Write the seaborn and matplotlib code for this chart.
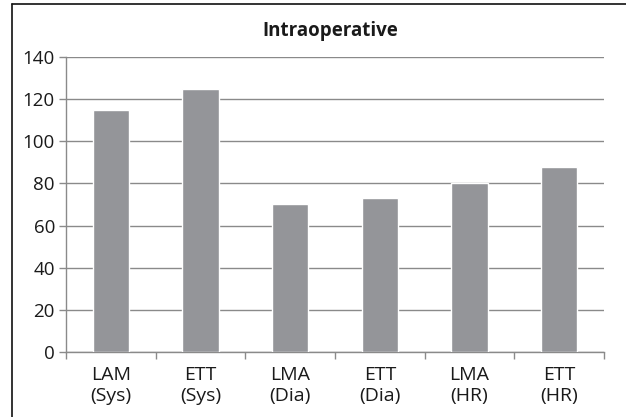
import matplotlib
matplotlib.use("Agg")
import matplotlib.pyplot as plt
from matplotlib.lines import Line2D
import seaborn as sns
import pandas as pd

categories = ["LAM\n(Sys)", "ETT\n(Sys)", "LMA\n(Dia)", "ETT\n(Dia)", "LMA\n(HR)", "ETT\n(HR)"]
values = [115, 125, 70, 73, 80, 88]
y_ticks = [0, 20, 40, 60, 80, 100, 120, 140]
title = "Intraoperative"

sns.set_theme(style="white")
plt.rcParams["font.family"] = ["Open Sans", "DejaVu Sans"]

df = pd.DataFrame({"cat": categories, "val": values})

W, H = 626, 417
fig = plt.figure(figsize=(W / 100, H / 100), dpi=100)
ax = fig.add_axes([66 / W, 1 - 352 / H, (604 - 66) / W, (352 - 57) / H])

sns.barplot(data=df, x="cat", y="val", color="#949599", saturation=1,
            width=0.405, ax=ax, zorder=3)

ax.set_ylim(0, 140)
ax.set_xlim(-0.5, len(categories) - 0.5)
ax.set_yticks(y_ticks)
ax.yaxis.grid(True, color="#8a8a8a", linewidth=1.0, zorder=0)
ax.set_axisbelow(True)

for s in ["top", "right"]:
    ax.spines[s].set_visible(False)
for s in ["left", "bottom"]:
    ax.spines[s].set_color("#8a8a8a")
    ax.spines[s].set_linewidth(1.0)

# category boundary ticks on the x axis
ax.set_xticks([i - 0.5 for i in range(len(categories) + 1)], minor=True)
ax.tick_params(axis="x", which="minor", length=5, width=1, color="#8a8a8a", direction="out", bottom=True)
ax.tick_params(axis="x", which="major", length=0, labelsize=14, labelcolor="#1a1a1a", pad=10)
ax.tick_params(axis="y", length=5, width=1, color="#8a8a8a", direction="out", left=True,
               labelsize=13.5, labelcolor="#1a1a1a", pad=3)
for lbl in ax.get_xticklabels():
    lbl.set_linespacing(1.2)

ax.set_xlabel("")
ax.set_ylabel("")

fig.text(330 / W, 1 - 31 / H, title, ha="center", va="center",
         fontsize=13.5, fontweight="bold", color="#1a1a1a")

# outer chart frame (left and top edges)
fig.add_artist(Line2D([12 / W, 12 / W], [0, 1 - 4 / H], transform=fig.transFigure,
                      color="#111111", linewidth=1.2))
fig.add_artist(Line2D([12 / W, 1], [1 - 4 / H, 1 - 4 / H], transform=fig.transFigure,
                      color="#111111", linewidth=1.2))

fig.savefig("out.png", dpi=100)
